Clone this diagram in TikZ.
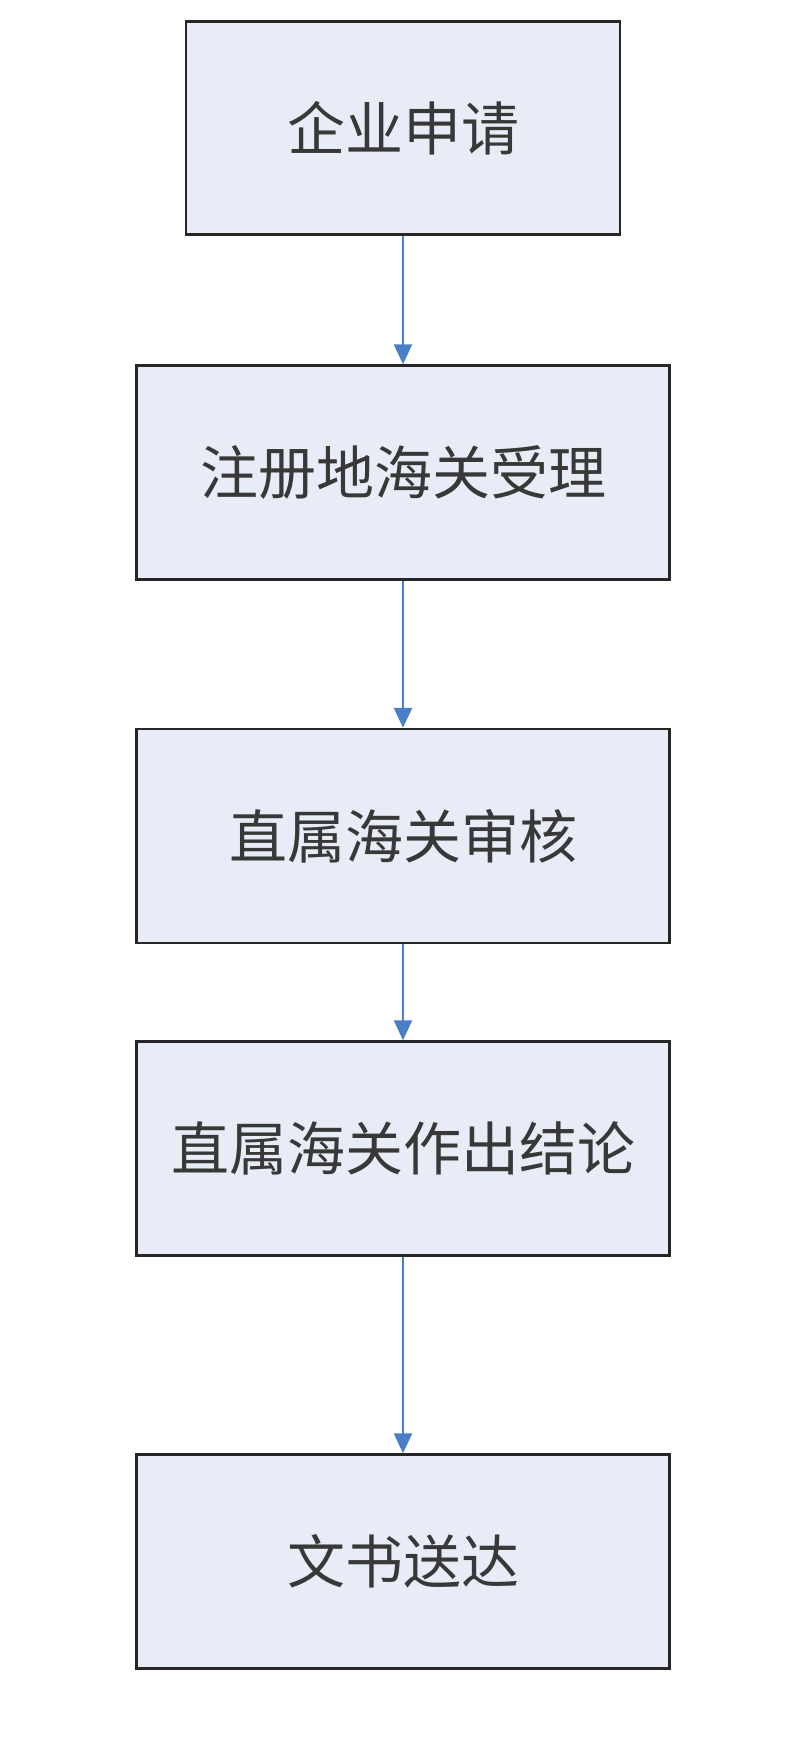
\documentclass[tikz,border=0pt]{standalone}
\usepackage{fontspec}
\newfontfamily\cjk{Noto Sans CJK SC}
\usetikzlibrary{arrows.meta}
\definecolor{boxfill}{HTML}{E8ECF6}
\definecolor{arr}{HTML}{4A7EC6}
\begin{document}
\begin{tikzpicture}[x=1pt,y=-1pt,
  box/.style={draw=black!85,line width=2.4pt,fill=boxfill,rectangle,font=\cjk\fontsize{58}{64}\selectfont,text=black!78},
  con/.style={draw=arr,line width=2.5pt,-{Triangle[length=20pt,width=18pt]}}]
\useasboundingbox (0,0) rectangle (800,1740);
\node[box,minimum width=434pt,minimum height=213pt] (a) at (403,128) {企业申请};
\node[box,minimum width=533pt,minimum height=214pt] (b) at (403,472.5) {注册地海关受理};
\node[box,minimum width=533pt,minimum height=214pt] (c) at (403,836) {直属海关审核};
\node[box,minimum width=533pt,minimum height=214pt] (d) at (403,1148.5) {直属海关作出结论};
\node[box,minimum width=533pt,minimum height=214pt] (e) at (403,1561.5) {文书送达};
\draw[con] (a) -- (b);
\draw[con] (b) -- (c);
\draw[con] (c) -- (d);
\draw[con] (d) -- (e);
\end{tikzpicture}
\end{document}
